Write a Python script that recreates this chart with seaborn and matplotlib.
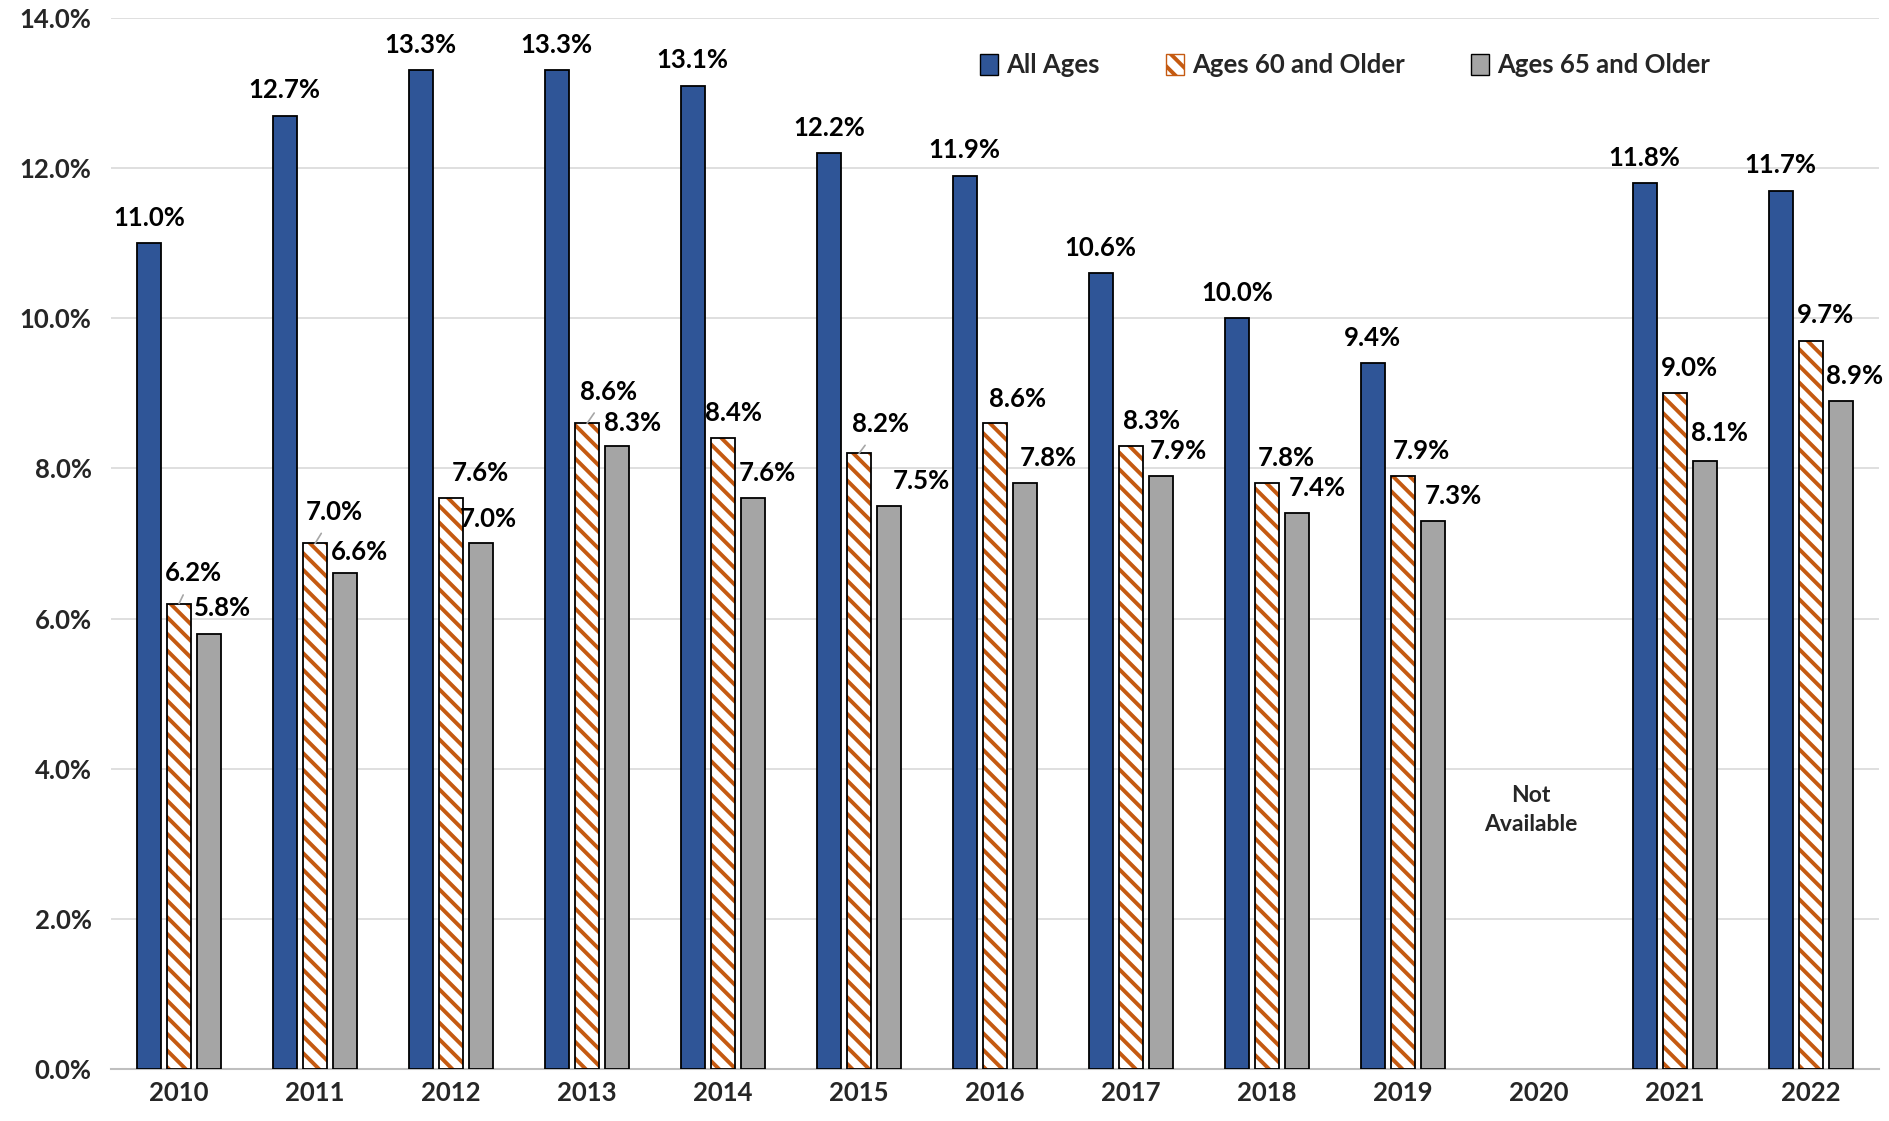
import numpy as np
import pandas as pd
import matplotlib
matplotlib.use('Agg')
import matplotlib.pyplot as plt
import seaborn as sns
from matplotlib.patches import Rectangle

# 数据
years = ['2010', '2011', '2012', '2013', '2014', '2015', '2016', '2017', '2018', '2019', '2020', '2021', '2022']
all_ages = [11.0, 12.7, 13.3, 13.3, 13.1, 12.2, 11.9, 10.6, 10.0, 9.4, np.nan, 11.8, 11.7]
ages_60 = [6.2, 7.0, 7.6, 8.6, 8.4, 8.2, 8.6, 8.3, 7.8, 7.9, np.nan, 9.0, 9.7]
ages_65 = [5.8, 6.6, 7.0, 8.3, 7.6, 7.5, 7.8, 7.9, 7.4, 7.3, np.nan, 8.1, 8.9]
series_names = ['All Ages', 'Ages 60 and Older', 'Ages 65 and Older']
y_ticks = [0, 2, 4, 6, 8, 10, 12, 14]
na_year = '2020'
na_text = 'Not\nAvailable'

blue = '#2F5597'
orange = '#C55A11'
grey = '#A5A5A5'

df = pd.DataFrame({
    'year': years * 3,
    'value': all_ages + ages_60 + ages_65,
    'series': [s for s in series_names for _ in years],
})

sns.set_theme(style='white')
plt.rcParams['font.family'] = ['Lato', 'DejaVu Sans']
plt.rcParams['font.weight'] = 'bold'
plt.rcParams['hatch.linewidth'] = 2.8

FS = 18.5

fig = plt.figure(figsize=(18.89, 11.21), dpi=100)
ax = fig.add_axes([0.0588, 0.0464, 0.9359, 0.9376])

sns.barplot(data=df, x='year', y='value', hue='series', order=years, hue_order=series_names,
            palette=[blue, 'white', grey], saturation=1, width=0.667, gap=0.2, edgecolor='black',
            linewidth=1.3, errorbar=None, ax=ax, legend=False, zorder=3)

# 斜线填充（60岁及以上）
for bar in ax.containers[1]:
    if np.isfinite(bar.get_height()):
        bar.set_hatch('\\\\')
        bar.set_edgecolor(orange)
        bar.set_linewidth(0)
        ax.add_patch(Rectangle(bar.get_xy(), bar.get_width(), bar.get_height(), fill=False,
                               edgecolor='black', linewidth=1.3, zorder=4))

# 数据标签偏移（像素，参考图缩放后），按年份索引
dx_all = [0] * 13
dy_all = [-21] * 13
dx_60 = [12, 16, 24, 18, 9, 18, 19, 17, 16, 15, 0, 12, 12]
dy_60 = [-25, -26, -21, -26, -21, -24, -20, -21, -21, -21, 0, -21, -21]
dx_65 = [11, 12, 6, 13, 12, 27, 19, 14, 17, 17, 0, 12, 11]
dy_65 = [-21, -18, -20, -19, -21, -21, -21, -21, -21, -21, 0, -23, -21]
leader_60 = [0, 1, 3, 5]
k = 0.867

for si, (cont, dxs, dys) in enumerate(zip(ax.containers, [dx_all, dx_60, dx_65], [dy_all, dy_60, dy_65])):
    for bar in cont:
        h = bar.get_height()
        if not np.isfinite(h):
            continue
        xc = bar.get_x() + bar.get_width() / 2
        i = int(round(xc))
        arrow = None
        if si == 1 and i in leader_60:
            arrow = dict(arrowstyle='-', color='#A6A6A6', lw=1.2, shrinkA=5, shrinkB=0)
        ax.annotate(f'{h:.1f}%', xy=(xc, h), xytext=(dxs[i] * k, -dys[i] * k),
                    textcoords='offset points', ha='center', va='center',
                    fontsize=FS, fontweight='bold', color='black', arrowprops=arrow, zorder=5)

ax.text(years.index(na_year) - 0.06, 3.45, na_text, ha='center', va='center', fontsize=16.5,
        fontweight='bold', linespacing=1.5)

ax.set_xlim(-0.5, 12.5)
ax.set_ylim(0, 14)
ax.set_yticks(y_ticks)
ax.set_yticklabels([f'{t:.1f}%' for t in y_ticks], fontsize=FS, fontweight='bold')
ax.tick_params(axis='x', labelsize=FS, length=0, pad=9)
ax.tick_params(axis='y', length=0, pad=14)
for lab in ax.get_xticklabels():
    lab.set_fontweight('bold')
ax.set_xlabel('')
ax.set_ylabel('')
ax.yaxis.grid(True, color='#D9D9D9', linewidth=1.2, zorder=0)
ax.set_axisbelow(True)
for s in ['top', 'right', 'left']:
    ax.spines[s].set_visible(False)
ax.spines['bottom'].set_color('#BFBFBF')
ax.spines['bottom'].set_linewidth(1.5)

# 图例
handles = [Rectangle((0, 0), 1, 1, facecolor=blue, edgecolor='black', linewidth=1),
           Rectangle((0, 0), 1, 1, facecolor='white', edgecolor=orange, hatch='\\\\', linewidth=1),
           Rectangle((0, 0), 1, 1, facecolor=grey, edgecolor='black', linewidth=1)]
ax.legend(handles, series_names, loc='center', bbox_to_anchor=(0.698, 0.955), ncol=3,
          frameon=False, handlelength=0.7, handleheight=0.9, handletextpad=0.3,
          columnspacing=2.6, prop={'weight': 'bold', 'size': FS})

fig.savefig('out.png', dpi=100)
